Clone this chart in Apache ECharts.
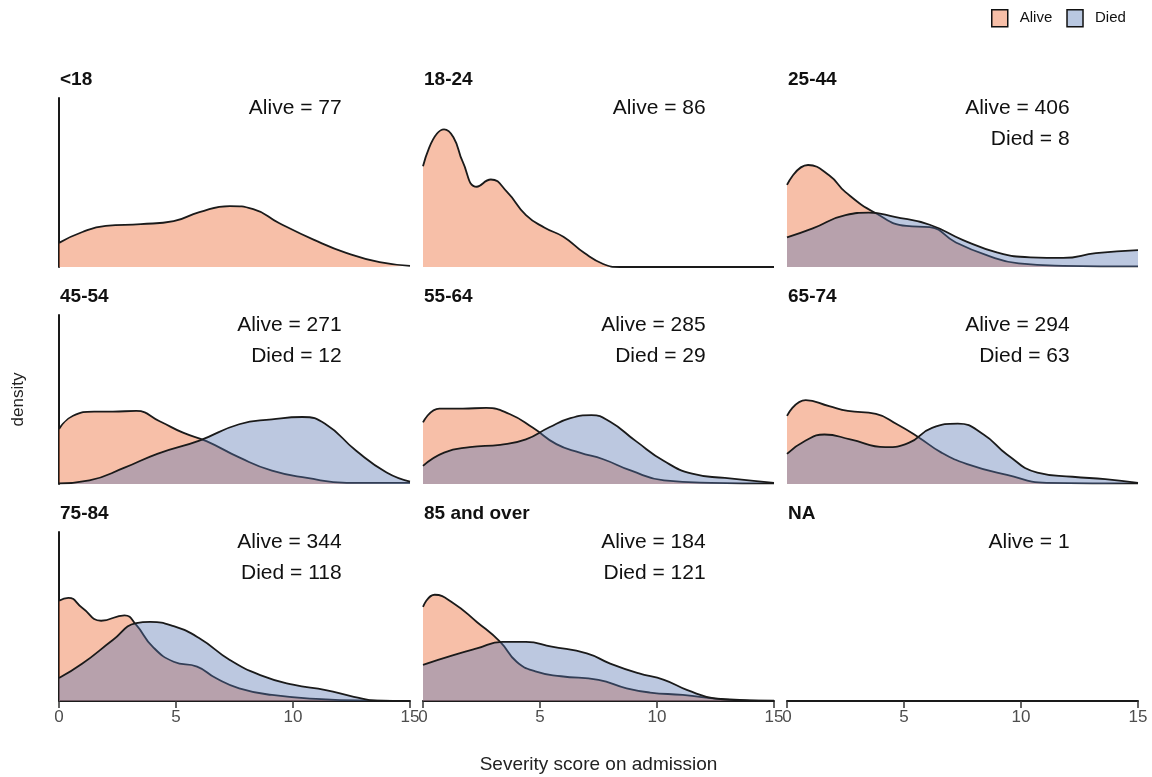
<!DOCTYPE html>
<html>
<head>
<meta charset="utf-8">
<script src="https://cdn.jsdelivr.net/npm/echarts@6/dist/echarts.min.js"></script>
<style>
  html, body { margin: 0; padding: 0; background: #ffffff; }
  #chart { width: 1152px; height: 777px; }
</style>
</head>
<body>
<div id="chart"></div>
<script>
// ---- Data ----
const categories = ['<18', '18-24', '25-44', '45-54', '55-64', '65-74', '75-84', '85 and over', 'NA'];
const aliveN = [77, 86, 406, 271, 285, 294, 344, 184, 1];
const diedN  = [null, null, 8, 12, 29, 63, 118, 121, null];
const xTicks = [0, 5, 10, 15];

// density curves: [severity score, density]
const alive_lt18 = [[0,0.040],[1.0,0.058],[2.0,0.068],[3.5,0.071],[4.9,0.076],[6.0,0.091],[7.3,0.101],[8.3,0.096],[9.4,0.073],[10.9,0.045],[12.3,0.023],[13.7,0.008],[15,0.002]];
const alive_18_24 = [[0,0.167],[0.9,0.228],[1.3,0.215],[1.7,0.174],[2.3,0.133],[2.9,0.145],[3.6,0.124],[4.4,0.086],[5.2,0.065],[6.0,0.050],[6.9,0.023],[7.7,0.005],[8.4,0],[11,0],[15,0]];
const alive_25_44 = [[0,0.136],[0.9,0.169],[1.8,0.152],[2.5,0.124],[3.8,0.089],[5.1,0.068],[6.1,0.066],[7.2,0.041],[8.5,0.020],[9.9,0.006],[11.8,0.002],[15,0.001]];
const died_25_44  = [[0,0.049],[1.1,0.064],[2.5,0.086],[3.5,0.090],[4.6,0.083],[6.1,0.070],[7.5,0.045],[9.0,0.024],[10.4,0.016],[11.8,0.015],[13.2,0.023],[15,0.028]];
const alive_45_54 = [[0,0.091],[0.6,0.113],[1.5,0.120],[2.3,0.120],[3.3,0.121],[4.3,0.104],[5.3,0.085],[6.3,0.071],[7.7,0.044],[9.1,0.022],[10.6,0.010],[12.3,0.002],[15,0.002]];
const died_45_54  = [[0,0.001],[1.3,0.006],[2.8,0.027],[4.2,0.050],[6.0,0.072],[7.7,0.099],[9.1,0.107],[10.4,0.111],[11.4,0.099],[12.7,0.055],[14.0,0.019],[15,0.004]];
const alive_55_64 = [[0,0.102],[0.7,0.125],[1.7,0.125],[2.7,0.126],[3.7,0.116],[4.7,0.093],[5.7,0.066],[6.7,0.052],[7.7,0.041],[8.9,0.022],[10.3,0.006],[12.3,0.002],[15,0.001]];
const died_55_64  = [[0,0.030],[0.9,0.052],[2.0,0.061],[3.3,0.065],[4.4,0.074],[5.4,0.094],[6.3,0.109],[7.2,0.114],[8.0,0.103],[9.1,0.071],[10.3,0.038],[11.5,0.017],[12.9,0.010],[15,0.002]];
const alive_65_74 = [[0,0.113],[0.8,0.139],[1.8,0.129],[2.6,0.121],[3.8,0.116],[4.7,0.099],[5.6,0.078],[6.6,0.052],[7.7,0.033],[9.4,0.015],[11.1,0.002],[15,0.001]];
const died_65_74  = [[0,0.050],[0.8,0.072],[1.6,0.082],[2.7,0.074],[4.2,0.061],[5.2,0.068],[6.2,0.093],[7.3,0.100],[8.4,0.082],[9.4,0.049],[10.7,0.019],[12.2,0.012],[13.6,0.008],[15,0.002]];
const alive_75_84 = [[0,0.166],[0.4,0.171],[1.0,0.154],[1.8,0.133],[2.8,0.142],[3.3,0.126],[4.0,0.090],[4.9,0.065],[5.9,0.057],[6.7,0.038],[7.7,0.021],[9.1,0.010],[11.2,0.003],[13.4,0.0005],[15,0]];
const died_75_84  = [[0,0.038],[1.0,0.062],[2.3,0.101],[3.3,0.129],[3.9,0.131],[4.9,0.124],[6.0,0.104],[7.3,0.068],[8.6,0.043],[10.0,0.027],[11.4,0.018],[12.6,0.007],[13.6,0.0005],[15,0]];
const alive_85plus = [[0,0.156],[0.5,0.176],[1.3,0.162],[2.3,0.131],[3.3,0.098],[4.0,0.065],[4.8,0.049],[5.9,0.041],[7.5,0.035],[8.7,0.021],[9.7,0.014],[11.1,0.010],[12.9,0.003],[15,0.0005]];
const died_85plus  = [[0,0.060],[1.3,0.076],[2.3,0.087],[3.4,0.098],[4.4,0.098],[5.5,0.090],[7.0,0.079],[8.0,0.062],[9.2,0.046],[10.3,0.035],[11.3,0.018],[12.5,0.004],[13.7,0.001],[15,0]];

const aliveCurves = [alive_lt18, alive_18_24, alive_25_44, alive_45_54, alive_55_64, alive_65_74, alive_75_84, alive_85plus, null];
const diedCurves  = [null, null, died_25_44, died_45_54, died_55_64, died_65_74, died_75_84, died_85plus, null];

// annotation anchor (data coords)
const labelX = 12.1;
const aliveLabelY = 0.263;
const diedLabelY = 0.212;

// ---- Layout / style ----
const FONT = 'Liberation Sans, Arial, Helvetica, sans-serif';
const COLS = [59, 423, 787];
const ROWS = [98, 315, 532];
const W = 351, H = 169;
const YMAX = 0.28;
const ALIVE_FILL = 'rgba(239,127,82,0.5)';
const DIED_FILL = 'rgba(88,118,178,0.4)';
const OUTLINE = '#1a1a1a';

const grids = [], xAxes = [], yAxes = [], series = [], titles = [];

categories.forEach((cat, i) => {
  const r = Math.floor(i / 3), c = i % 3;
  grids.push({ left: COLS[c], top: ROWS[r], width: W, height: H, containLabel: false });
  titles.push({
    text: cat, left: COLS[c] + 1, top: ROWS[r] - 28, padding: 0,
    textStyle: { fontSize: 19, fontWeight: 'bold', color: '#111', fontFamily: FONT }
  });
  const xa = {
    type: 'value', gridIndex: i, min: 0, max: 15, interval: 5,
    show: r === 2,
    axisLine: { show: true, onZero: false, lineStyle: { color: OUTLINE, width: 2 } },
    axisTick: { show: true, length: 7, lineStyle: { color: '#333', width: 1.5 } },
    axisLabel: { show: true, color: '#4d4d4d', fontSize: 17, margin: 8, fontFamily: FONT,
      formatter: v => xTicks.includes(v) ? String(v) : '' },
    splitLine: { show: false }
  };
  if (i === 7) {
    xa.name = 'Severity score on admission';
    xa.nameLocation = 'middle';
    xa.nameGap = 54;
    xa.nameTextStyle = { fontSize: 19, color: '#222', fontFamily: FONT };
  }
  xAxes.push(xa);
  const ya = {
    type: 'value', gridIndex: i, min: 0, max: YMAX,
    show: c === 0,
    axisLine: { show: true, lineStyle: { color: OUTLINE, width: 2 } },
    axisTick: { show: false }, axisLabel: { show: false }, splitLine: { show: false }
  };
  if (i === 3) {
    ya.name = 'density';
    ya.nameLocation = 'middle';
    ya.nameGap = 32;
    ya.nameRotate = 90;
    ya.nameTextStyle = { fontSize: 17, color: '#222', fontFamily: FONT };
  }
  yAxes.push(ya);

  if (aliveCurves[i]) {
    series.push({
      type: 'line', name: 'Alive', xAxisIndex: i, yAxisIndex: i, data: aliveCurves[i],
      smooth: 0.5, symbol: 'none', showSymbol: false, silent: true, z: 2,
      lineStyle: { color: OUTLINE, width: 1.8 },
      itemStyle: { color: ALIVE_FILL },
      areaStyle: { color: ALIVE_FILL, opacity: 1 }
    });
  }
  if (diedCurves[i]) {
    series.push({
      type: 'line', name: 'Died', xAxisIndex: i, yAxisIndex: i, data: diedCurves[i],
      smooth: 0.5, symbol: 'none', showSymbol: false, silent: true, z: 3,
      lineStyle: { color: OUTLINE, width: 1.8 },
      itemStyle: { color: DIED_FILL },
      areaStyle: { color: DIED_FILL, opacity: 1 }
    });
  }
  // annotations
  const ann = [{ value: [labelX, aliveLabelY], label: { formatter: 'Alive = ' + aliveN[i] } }];
  if (diedN[i] !== null) ann.push({ value: [labelX, diedLabelY], label: { formatter: 'Died = ' + diedN[i] } });
  series.push({
    type: 'scatter', name: 'ann' + i, xAxisIndex: i, yAxisIndex: i, data: ann,
    symbolSize: 1, itemStyle: { color: '#ffffff', opacity: 1 }, silent: true, z: 5,
    label: { show: true, position: 'left', distance: 0, fontSize: 21, color: '#111', opacity: 1, fontFamily: FONT }
  });
});

const chart = echarts.init(document.getElementById('chart'), null, { renderer: 'canvas' });
chart.setOption({
  animation: false,
  backgroundColor: '#ffffff',
  textStyle: { fontFamily: FONT },
  title: titles,
  legend: {
    left: 991, top: 9, padding: 0, itemWidth: 16, itemHeight: 17, itemGap: 14,
    icon: 'rect',
    textStyle: { fontSize: 15, color: '#111', fontFamily: FONT, padding: [0, 0, 0, 7] },
    data: [
      { name: 'Alive', itemStyle: { color: '#F7BFA8', borderColor: '#111', borderWidth: 1.5 } },
      { name: 'Died', itemStyle: { color: '#B9C8E1', borderColor: '#111', borderWidth: 1.5 } }
    ],
    selectedMode: false
  },
  grid: grids,
  xAxis: xAxes,
  yAxis: yAxes,
  series: series
});
</script>
</body>
</html>
